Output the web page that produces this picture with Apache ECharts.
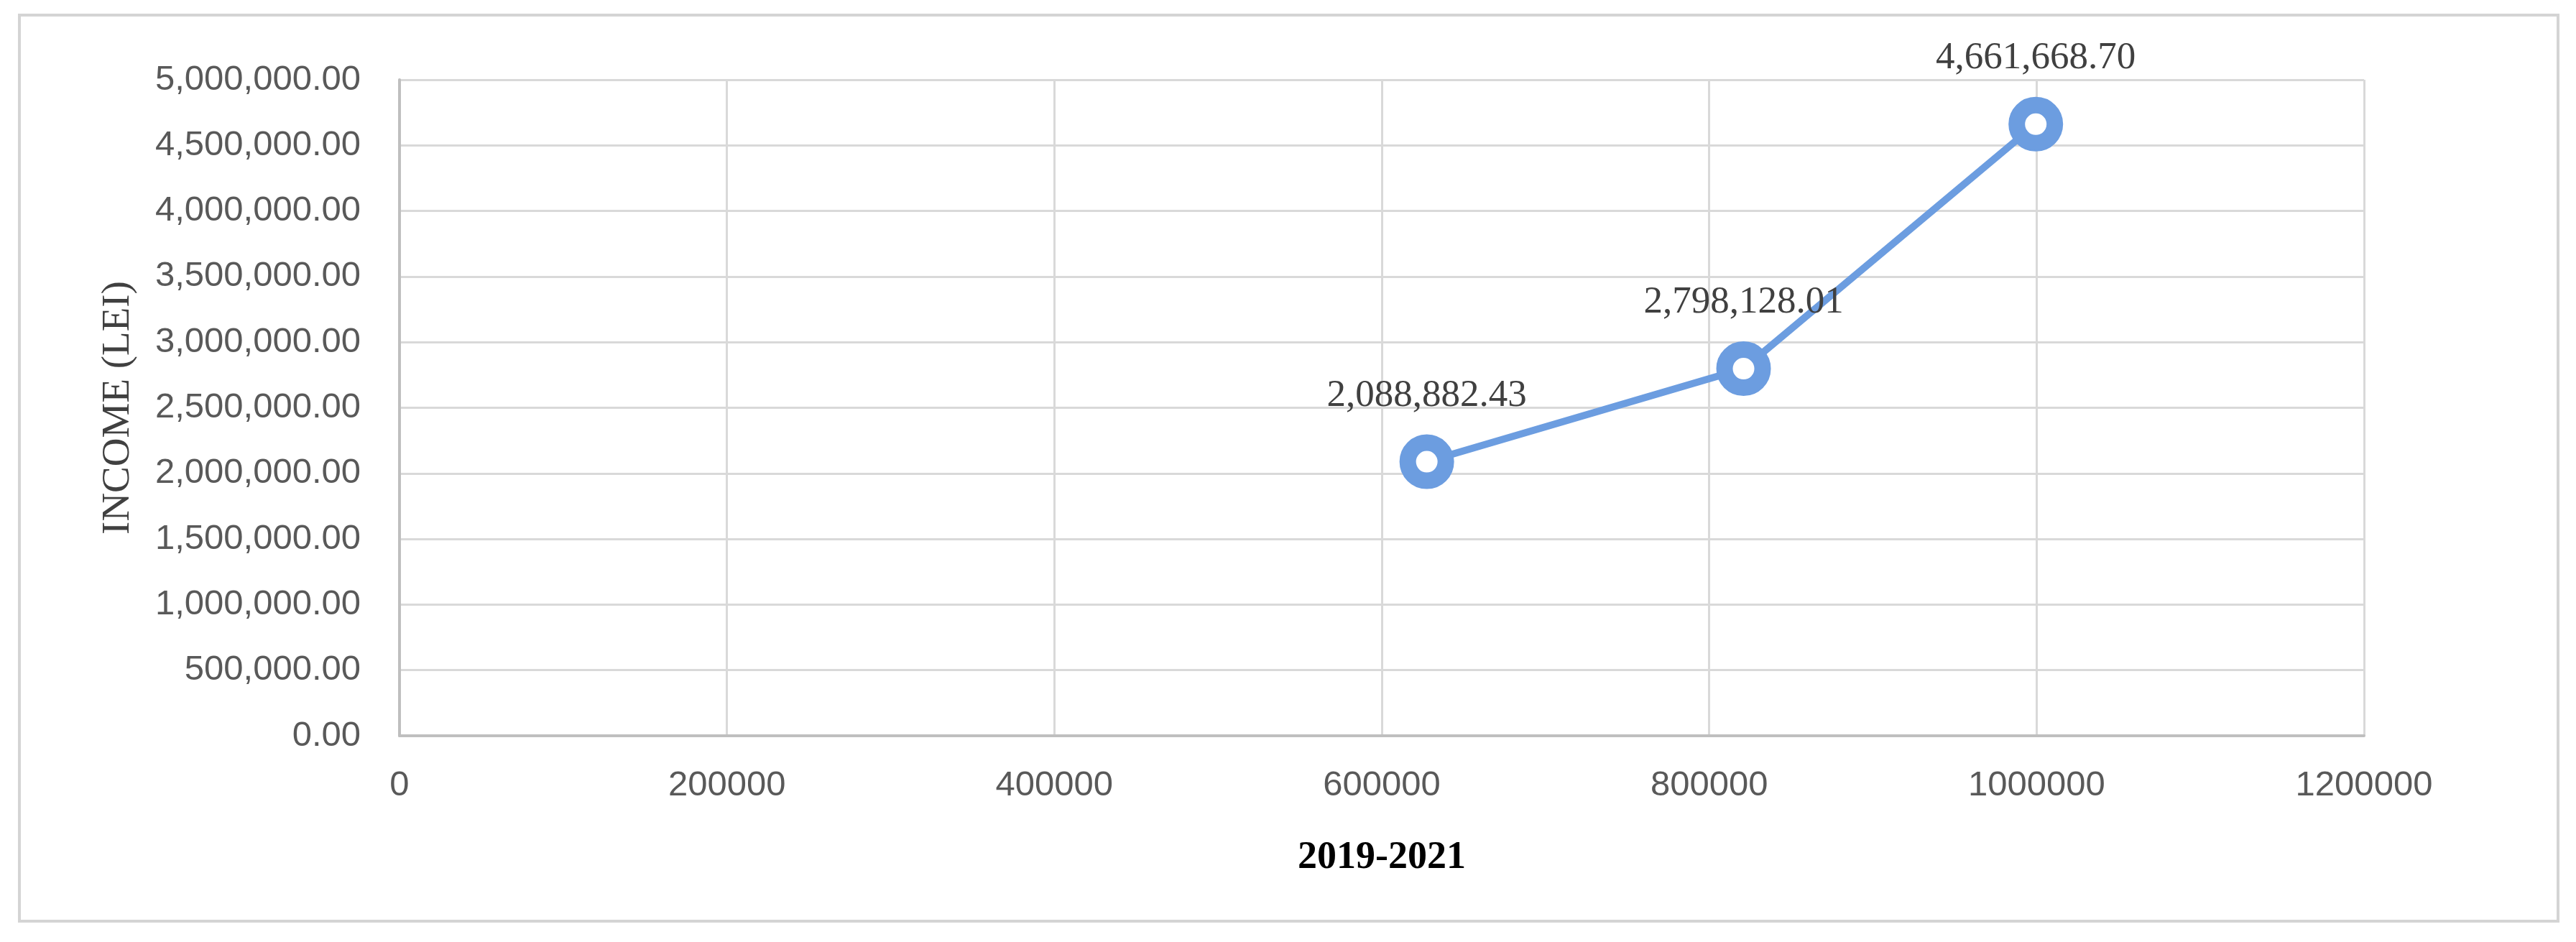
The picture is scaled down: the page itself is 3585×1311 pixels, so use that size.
<!DOCTYPE html>
<html>
<head>
<meta charset="utf-8">
<script src="https://cdn.jsdelivr.net/npm/echarts@6/dist/echarts.min.js"></script>
<style>
    html, body { margin: 0; padding: 0; background: #fff; }
    #chart { width: 3585px; height: 1311px; }
</style>
</head>
<body>
<div id="chart"></div>
<script>
// data
var xValues = [627500, 821000, 999500]
var incomeValues = [2088882.43, 2798128.01, 4661668.70]
var xTicks = { min: 0, max: 1200000, interval: 200000 }
var yTicks = { min: 0, max: 5000000, interval: 500000 }
var xTitle = '2019-2021'
var yTitle = 'INCOME (LEI)'

var lineColor = '#6c9de0'
var fontColor = '#595959'
var gridColor = '#d9d9d9'
var axisLineColor = '#bfbfbf'

function money(v) {
    return Number(v).toLocaleString('en-US', { minimumFractionDigits: 2, maximumFractionDigits: 2 })
}

var points = []
for (var i = 0; i < xValues.length; i++) {
    points.push([xValues[i], incomeValues[i]])
}

var myChart = echarts.init(document.getElementById('chart'))
var option = {
    animation: false,
    backgroundColor: '#fff',
    graphic: [{
        type: 'rect',
        shape: { x: 27, y: 21, width: 3533, height: 1261 },
        style: { fill: 'none', stroke: '#d4d4d4', lineWidth: 4 },
        silent: true
    }],
    grid: {
        left: 556,
        right: 295,
        top: 111,
        bottom: 287
    },
    xAxis: {
        type: 'value',
        min: xTicks.min,
        max: xTicks.max,
        interval: xTicks.interval,
        name: xTitle,
        nameLocation: 'middle',
        nameGap: 143,
        nameTextStyle: {
            fontFamily: 'Liberation Serif',
            fontWeight: 'bold',
            fontSize: 54,
            color: '#000'
        },
        axisTick: { show: false },
        axisLine: {
            show: true,
            lineStyle: { color: axisLineColor, width: 4 }
        },
        axisLabel: {
            color: fontColor,
            fontFamily: 'Liberation Sans',
            fontSize: 49,
            margin: 45,
            formatter: function(v) {
                return String(v)
            }
        },
        splitLine: {
            show: true,
            lineStyle: { color: gridColor, width: 3 }
        }
    },
    yAxis: {
        type: 'value',
        min: yTicks.min,
        max: yTicks.max,
        interval: yTicks.interval,
        name: yTitle,
        nameLocation: 'middle',
        nameGap: 364,
        nameTextStyle: {
            fontFamily: 'Liberation Serif',
            fontSize: 55,
            color: '#404040'
        },
        axisTick: { show: false },
        axisLine: {
            show: true,
            lineStyle: { color: axisLineColor, width: 4 }
        },
        axisLabel: {
            color: fontColor,
            fontFamily: 'Liberation Sans',
            fontSize: 49,
            margin: 54,
            formatter: money
        },
        splitLine: {
            show: true,
            lineStyle: { color: gridColor, width: 3 }
        }
    },
    series: [{
        type: 'line',
        data: points,
        symbol: 'circle',
        symbolSize: 53,
        lineStyle: { color: lineColor, width: 10 },
        itemStyle: {
            color: '#fff',
            borderColor: lineColor,
            borderWidth: 23
        },
        label: {
            show: true,
            position: 'top',
            distance: 27,
            fontFamily: 'Liberation Serif',
            fontSize: 53,
            lineHeight: 53,
            color: '#404040',
            formatter: function(p) {
                return money(p.value[1])
            }
        },
        z: 3
    }]
}
myChart.setOption(option)
</script>
</body>
</html>
